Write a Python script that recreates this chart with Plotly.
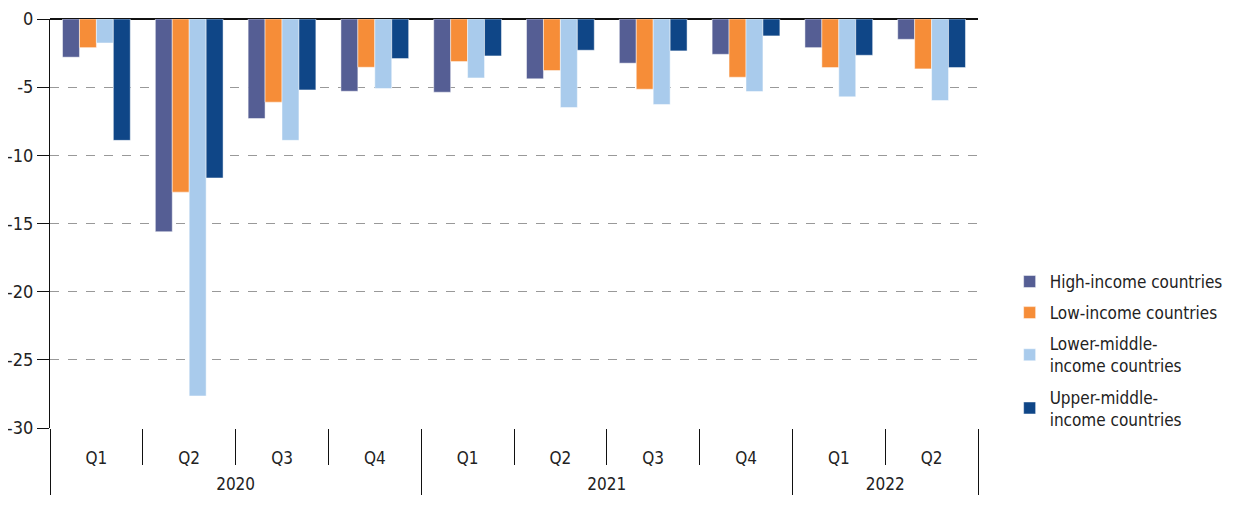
import plotly.graph_objects as go

years = ["2020"] * 4 + ["2021"] * 4 + ["2022"] * 2
quarters = ["Q1", "Q2", "Q3", "Q4", "Q1", "Q2", "Q3", "Q4", "Q1", "Q2"]

high_income = [-2.8, -15.6, -7.3, -5.3, -5.37, -4.39, -3.24, -2.59, -2.1, -1.49]
low_income = [-2.1, -12.7, -6.1, -3.54, -3.12, -3.78, -5.15, -4.27, -3.56, -3.66]
lower_middle = [-1.76, -27.65, -8.9, -5.1, -4.32, -6.49, -6.27, -5.32, -5.71, -5.98]
upper_middle = [-8.9, -11.66, -5.2, -2.9, -2.71, -2.29, -2.34, -1.24, -2.66, -3.56]

y_tickvals = [0, -5, -10, -15, -20, -25, -30]
y_ticktext = ["0", "-5", "-10", "-15", "-20", "-25", "-30"]

series = [
    ("High-income countries", high_income, "#555E94"),
    ("Low-income countries", low_income, "#F68D38"),
    ("Lower-middle-<br>income countries", lower_middle, "#A9CBEC"),
    ("Upper-middle-<br>income countries", upper_middle, "#0F4687"),
]

FONT = "Liberation Sans Narrow, DejaVu Sans Condensed, Roboto, sans-serif"

year_labels = ["<br>" + y for y in years]

fig = go.Figure()
for i, (name, vals, color) in enumerate(series):
    fig.add_trace(go.Bar(
        x=[year_labels, quarters], y=vals, name=name, legendgroup=f"g{i}",
        marker=dict(color=color, line=dict(color="rgba(255,255,255,0.6)", width=0.8)),
    ))

# the page body adds an 8px offset, so the figure is sized to fit the window
fig.update_layout(
    width=1229, height=498,
    margin=dict(l=42, r=259, t=11, b=78),
    paper_bgcolor="white", plot_bgcolor="white",
    barmode="group", bargap=0.27, bargroupgap=0,
    font=dict(family=FONT, size=17, color="#222222"),
    legend=dict(
        xref="container", yref="container",
        x=0.815, y=0.486, xanchor="left", yanchor="top",
        font=dict(family=FONT, size=17, color="#222222"),
        tracegroupgap=6, itemwidth=30,
    ),
    showlegend=True,
)
fig.update_yaxes(
    range=[-30, 0], tickvals=y_tickvals, ticktext=y_ticktext,
    automargin=False,
    showgrid=True, gridcolor="#999999", griddash="dash", gridwidth=1,
    zeroline=True, zerolinecolor="#111111", zerolinewidth=1.5,
    showline=True, linecolor="#111111", linewidth=1.2,
    ticks="outside", ticklen=12, tickcolor="#111111",
    tickfont=dict(family=FONT, size=18, color="#222222"),
)
fig.update_xaxes(
    type="multicategory", automargin=False,
    showline=False,
    ticks="outside", tickson="boundaries", ticklen=36, tickcolor="#111111",
    ticklabelstandoff=18,
    showdividers=True, dividercolor="#111111", dividerwidth=1.2,
    tickfont=dict(family=FONT, size=17, color="#222222"),
)

fig.write_html("out.html")
